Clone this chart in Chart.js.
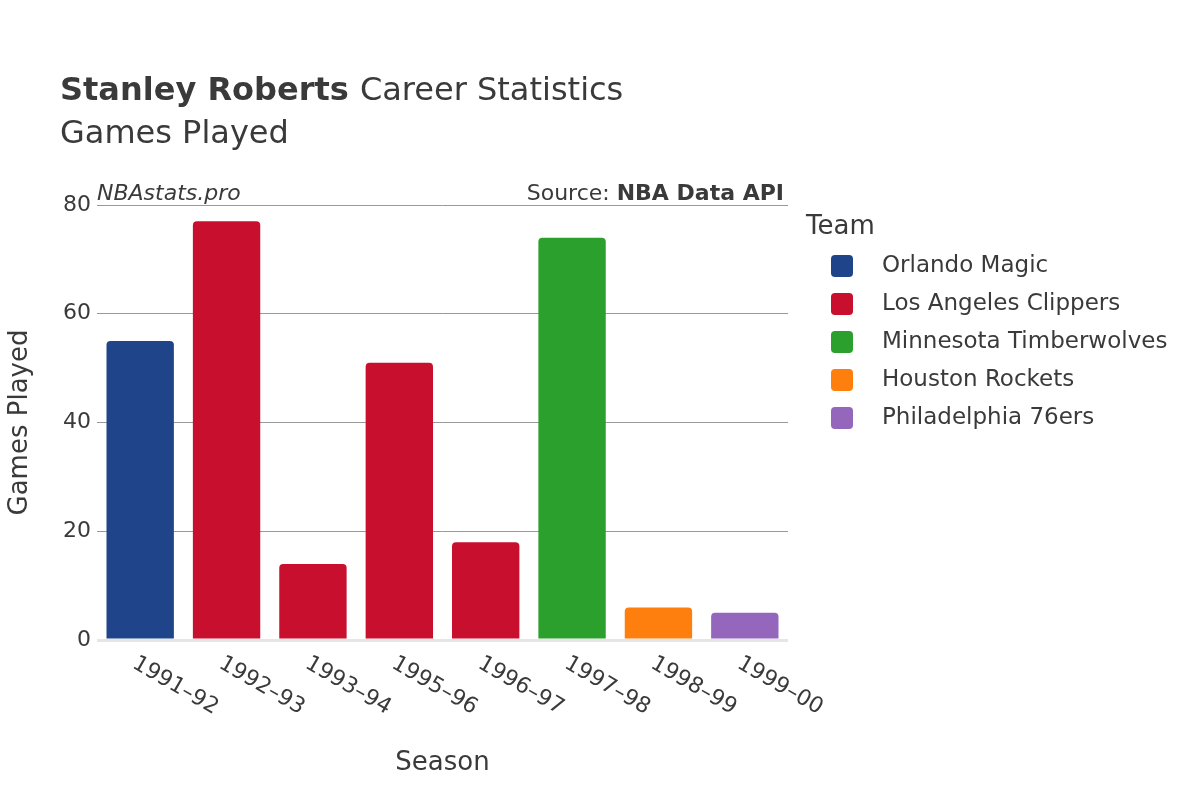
<!DOCTYPE html>
<html>
<head>
<meta charset="utf-8">
<script src="https://cdn.jsdelivr.net/npm/chart.js@4"></script>
<style>
  body { margin: 0; background: #fff; }
  #wrap { width: 1200px; height: 800px; }
</style>
</head>
<body>
<div id="wrap"><canvas id="myChart"></canvas></div>
<script>
// Chart data
const seasons = ['1991-92', '1992-93', '1993-94', '1995-96', '1996-97', '1997-98', '1998-99', '1999-00'];
const teams = ['Orlando Magic', 'Los Angeles Clippers', 'Minnesota Timberwolves', 'Houston Rockets', 'Philadelphia 76ers'];
const teamColors = ['#1f448a', '#c8102e', '#2ca02c', '#ff7f0e', '#9467bd'];
const gamesPlayed = [55, 77, 14, 51, 18, 74, 6, 5];
const seasonTeam = [0, 1, 1, 1, 1, 2, 3, 4];
const yTicks = [0, 20, 40, 60, 80];

const FONT = '"DejaVu Sans", "Noto Sans", sans-serif';
const textColor = '#3a3a3a';

// one dataset per team, null where the team didn't play
const datasets = teams.map((t, i) => ({
    label: t,
    data: gamesPlayed.map((v, j) => seasonTeam[j] === i ? v : null),
    backgroundColor: teamColors[i],
    borderRadius: 4,
    borderSkipped: 'bottom',
    barPercentage: 0.78,
    categoryPercentage: 1
}));

// title, axis labels, rotated ticks and legend
const decorations = {
    id: 'decorations',
    afterDraw(chart) {
        const ctx = chart.ctx;
        const area = chart.chartArea;
        ctx.save();
        ctx.fillStyle = textColor;
        ctx.textBaseline = 'alphabetic';
        ctx.textAlign = 'left';
        ctx.font = 'bold 32px ' + FONT;
        ctx.fillText('Stanley Roberts', 60, 100);
        let w = ctx.measureText('Stanley Roberts ').width;
        ctx.font = '32px ' + FONT;
        ctx.fillText('Career Statistics', 60 + w, 100);
        ctx.fillText('Games Played', 60, 143);

        ctx.font = 'italic 22px ' + FONT;
        ctx.fillText('NBAstats.pro', 97, 200);
        ctx.textAlign = 'right';
        ctx.font = 'bold 22px ' + FONT;
        ctx.fillText('NBA Data API', 784, 200);
        let bw = ctx.measureText('NBA Data API').width;
        ctx.font = '22px ' + FONT;
        ctx.fillText('Source: ', 784 - bw, 200);

        // axis titles
        ctx.textAlign = 'center';
        ctx.font = '26px ' + FONT;
        ctx.fillText('Season', (area.left + area.right) / 2, 770);
        ctx.save();
        ctx.translate(27, (area.top + area.bottom) / 2);
        ctx.rotate(-Math.PI / 2);
        ctx.fillText('Games Played', 0, 0);
        ctx.restore();

        // x tick labels, rotated downwards to the right
        const xs = chart.scales.x;
        ctx.font = '22px ' + FONT;
        ctx.textAlign = 'left';
        ctx.textBaseline = 'middle';
        seasons.forEach((s, i) => {
            const x = xs.getPixelForTick(i);
            ctx.save();
            ctx.translate(x - 6, area.bottom + 22);
            ctx.rotate(Math.PI / 6);
            ctx.fillText(s.replace('-', '–'), 0, 0);
            ctx.restore();
        });

        // legend
        ctx.textAlign = 'left';
        ctx.textBaseline = 'middle';
        ctx.font = '26px ' + FONT;
        ctx.fillText('Team', 806, 227);
        ctx.font = '23px ' + FONT;
        teams.forEach((t, i) => {
            const y = 266 + i * 38;
            ctx.fillStyle = teamColors[i];
            ctx.beginPath();
            ctx.roundRect(831, y - 11, 22, 22, 4);
            ctx.fill();
            ctx.fillStyle = textColor;
            ctx.fillText(t, 882, y);
        });
        ctx.restore();
    }
};

const ctx = document.querySelector('#myChart').getContext('2d');
const myChart = new Chart(ctx, {
    type: 'bar',
    data: { labels: seasons, datasets: datasets },
    options: {
        responsive: true,
        maintainAspectRatio: false,
        animation: false,
        skipNull: true,
        layout: { padding: { left: 0, right: 412, top: 205, bottom: 160 } },
        plugins: { legend: { display: false }, tooltip: { enabled: false } },
        scales: {
            x: {
                grid: { display: false },
                border: { display: false },
                ticks: { display: false },
                afterFit: (scale) => { scale.height = 0; }
            },
            y: {
                min: 0,
                max: 80,
                afterBuildTicks: (scale) => { scale.ticks = yTicks.map(v => ({ value: v })); },
                afterFit: (scale) => { scale.width = 97; },
                border: { display: false },
                grid: {
                    color: (c) => c.tick.value === 0 ? '#e6e6e6' : '#999999',
                    lineWidth: (c) => c.tick.value === 0 ? 3 : 1,
                    drawTicks: false
                },
                ticks: { color: textColor, font: { size: 22, family: FONT }, padding: 6 }
            }
        }
    },
    plugins: [decorations]
});
</script>
</body>
</html>
